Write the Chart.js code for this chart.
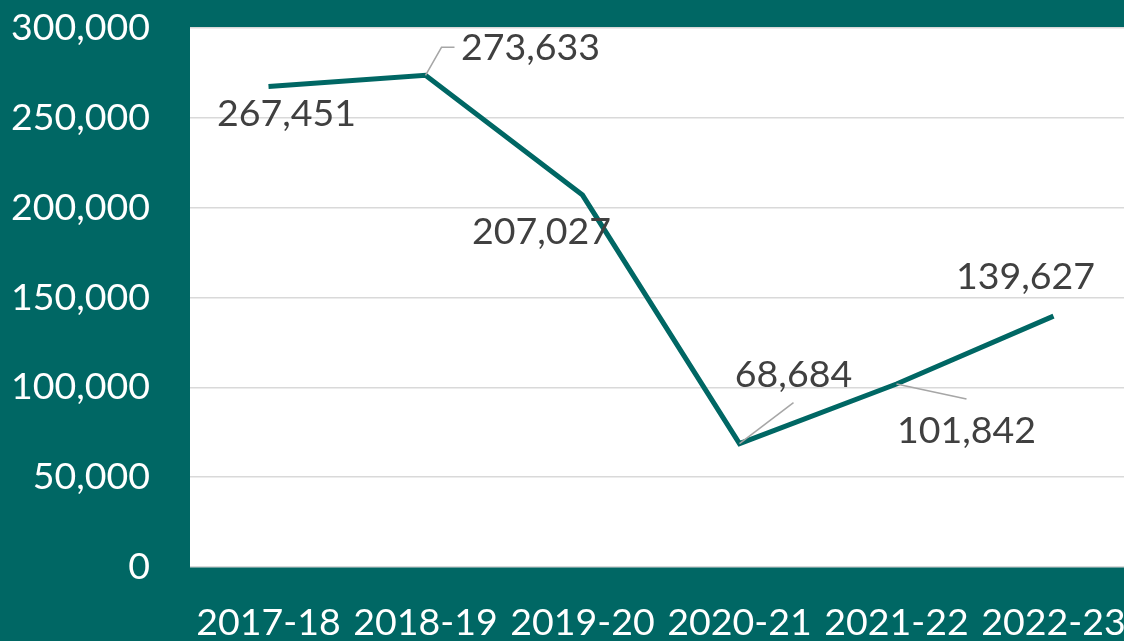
<!DOCTYPE html>
<html>
<head>
<meta charset="utf-8">
<script src="https://cdn.jsdelivr.net/npm/chart.js@4.4.1/dist/chart.umd.min.js"></script>
<style>
  html, body { margin: 0; padding: 0; background: #006764; overflow: hidden; }
  #wrap { width: 1132px; height: 641px; }
</style>
</head>
<body>
<div id="wrap"><canvas id="chart"></canvas></div>
<script>
const years = ['2017-18', '2018-19', '2019-20', '2020-21', '2021-22', '2022-23'];
const totals = [267451, 273633, 207027, 68684, 101842, 139627];
const yTicks = [0, 50000, 100000, 150000, 200000, 250000, 300000];

const teal = '#006764';
const fontFamily = 'Lato, "Open Sans", sans-serif';
const fontSize = 37.5;

// where each value label sits relative to its point (dx, dy) and its leader line, if any
const labelPlace = [
  { dx: 18, dy: 27, leader: null },
  { dx: 105, dy: -27, leader: [[16, -28], [29, -28]] },
  { dx: -41, dy: 37, leader: null },
  { dx: 54, dy: -69, leader: [[54, -41]] },
  { dx: 70, dy: 47, leader: [[70, 15]] },
  { dx: -28, dy: -39, leader: null }
];

const fmt = v => v.toLocaleString('en-US');

const plotBg = {
  id: 'plotBg',
  beforeDraw(chart) {
    const { ctx, chartArea: a } = chart;
    ctx.save();
    ctx.fillStyle = '#ffffff';
    ctx.fillRect(a.left, a.top, a.right - a.left, a.bottom - a.top);
    ctx.restore();
  }
};

const valueLabels = {
  id: 'valueLabels',
  afterDatasetsDraw(chart) {
    const { ctx } = chart;
    const pts = chart.getDatasetMeta(0).data;
    ctx.save();
    pts.forEach((p, i) => {
      const pl = labelPlace[i];
      if (pl.leader) {
        ctx.strokeStyle = '#a6a6a6';
        ctx.lineWidth = 1.5;
        ctx.beginPath();
        ctx.moveTo(p.x, p.y);
        pl.leader.forEach(([lx, ly]) => ctx.lineTo(p.x + lx, p.y + ly));
        ctx.stroke();
      }
      ctx.fillStyle = '#404040';
      ctx.font = fontSize + 'px ' + fontFamily;
      ctx.textAlign = 'center';
      ctx.textBaseline = 'middle';
      ctx.fillText(fmt(totals[i]), p.x + pl.dx, p.y + pl.dy);
    });
    ctx.restore();
  }
};

new Chart(document.getElementById('chart'), {
  type: 'line',
  data: {
    labels: years,
    datasets: [{
      data: totals,
      borderColor: teal,
      borderWidth: 5,
      pointRadius: 0,
      tension: 0,
      fill: false
    }]
  },
  options: {
    responsive: true,
    maintainAspectRatio: false,
    animation: false,
    layout: { padding: { top: 28, right: 0, bottom: 0, left: 0 } },
    plugins: { legend: { display: false }, tooltip: { enabled: false } },
    scales: {
      x: {
        offset: true,
        grid: { display: false, drawTicks: false },
        border: { display: false },
        ticks: { color: '#ffffff', font: { family: fontFamily, size: fontSize }, padding: 33, maxRotation: 0, autoSkip: false },
        afterFit(scale) { scale.height = 74; scale.paddingLeft = 0; scale.paddingRight = 0; }
      },
      y: {
        min: 0,
        max: 300000,
        afterBuildTicks(scale) { scale.ticks = yTicks.map(v => ({ value: v })); },
        grid: { color: '#d9d9d9', lineWidth: 1.5, drawTicks: false },
        border: { display: false },
        ticks: { color: '#ffffff', font: { family: fontFamily, size: fontSize }, padding: 40, callback: v => fmt(v) },
        afterFit(scale) { scale.width = 190; scale.paddingTop = 0; scale.paddingBottom = 0; }
      }
    }
  },
  plugins: [plotBg, valueLabels]
});
</script>
</body>
</html>
